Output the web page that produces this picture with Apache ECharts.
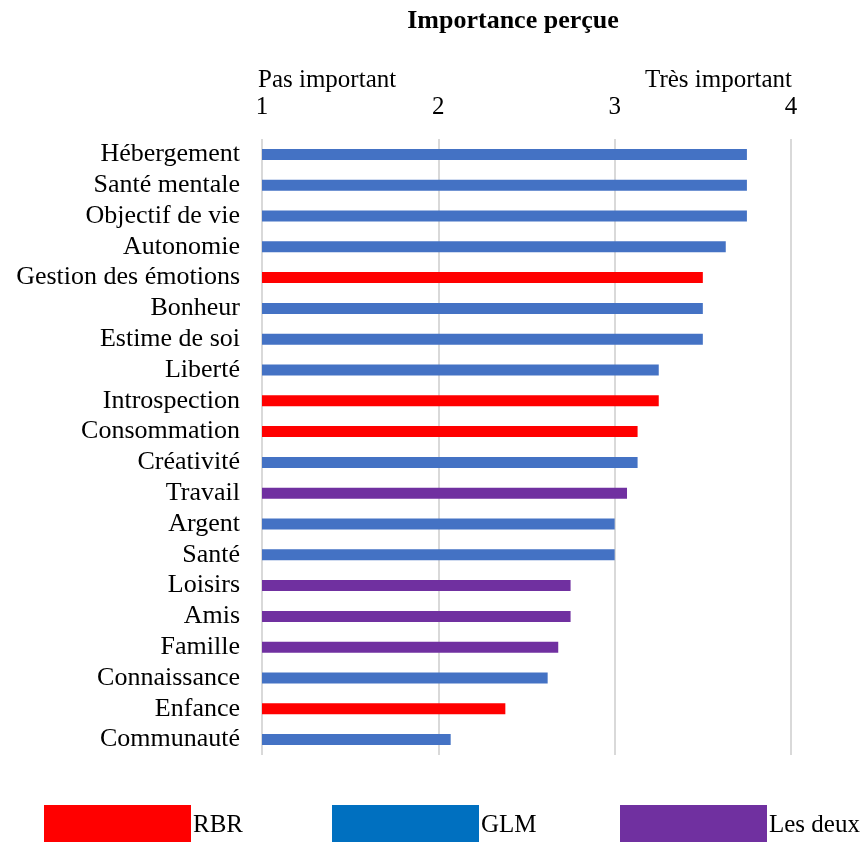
<!DOCTYPE html>
<html>
<head>
<meta charset="utf-8">
<script src="https://cdn.jsdelivr.net/npm/echarts@6/dist/echarts.min.js"></script>
<style>
  html, body { margin: 0; padding: 0; background: #fff; }
  #chart { width: 865px; height: 842px; }
</style>
</head>
<body>
<div id="chart"></div>
<script>
// besoins, du haut vers le bas
const besoins = ['Hébergement', 'Santé mentale', 'Objectif de vie', 'Autonomie',
  'Gestion des émotions', 'Bonheur', 'Estime de soi', 'Liberté', 'Introspection',
  'Consommation', 'Créativité', 'Travail', 'Argent', 'Santé', 'Loisirs', 'Amis',
  'Famille', 'Connaissance', 'Enfance', 'Communauté']
const importance = [3.75, 3.75, 3.75, 3.63, 3.5, 3.5, 3.5, 3.25, 3.25, 3.13,
  3.13, 3.07, 3.0, 3.0, 2.75, 2.75, 2.68, 2.62, 2.38, 2.07]
const modele = ['GLM', 'GLM', 'GLM', 'GLM', 'RBR', 'GLM', 'GLM', 'GLM', 'RBR',
  'RBR', 'GLM', 'Les deux', 'GLM', 'GLM', 'Les deux', 'Les deux', 'Les deux',
  'GLM', 'RBR', 'GLM']
const groupes   = ['RBR', 'GLM', 'Les deux']
const tickVals  = [1, 2, 3, 4]

const barColors    = { 'RBR': '#ff0000', 'GLM': '#4472c4', 'Les deux': '#7030a0' }
const legendColors = { 'RBR': '#ff0000', 'GLM': '#0070c0', 'Les deux': '#7030a0' }
const FONT = '"Liberation Serif", "Times New Roman", serif'
const FS = 25

const chart = echarts.init(document.getElementById('chart'))

// une série par modèle, empilées pour rester sur la même ligne
const series = groupes.map(g => ({
  name: g,
  type: 'bar',
  stack: 'all',
  barWidth: 11,
  itemStyle: { color: barColors[g] },
  data: importance.map((v, i) => modele[i] === g ? v : '-'),
}))

const legendLeft = [44, 332, 620]

chart.setOption({
  animation: false,
  textStyle: { fontFamily: FONT },
  title: {
    text: 'Importance perçue',
    left: 513, top: 8, textAlign: 'center', padding: 0,
    textStyle: { fontFamily: FONT, fontSize: 26, fontWeight: 'bold', color: '#000' },
  },
  legend: groupes.map((g, i) => ({
    data: [{ name: g, itemStyle: { color: legendColors[g] } }],
    left: legendLeft[i], top: 805, padding: 0,
    itemWidth: 147, itemHeight: 40, itemGap: 0,
    icon: 'rect',
    textStyle: { fontFamily: FONT, fontSize: FS, color: '#000', padding: [0, 0, 0, -3] },
    selectedMode: false,
  })),
  grid: { left: 262, right: 74, top: 139, bottom: 87, containLabel: false, outerBoundsMode: 'none' },
  xAxis: {
    type: 'value',
    position: 'top',
    min: 1, max: 4, interval: 1,
    axisLine: { show: false },
    axisTick: { show: false },
    splitLine: { lineStyle: { color: '#d9d9d9', width: 2 } },
    axisLabel: {
      margin: 19,
      fontFamily: FONT, fontSize: FS, color: '#000',
      formatter: v => tickVals.includes(v) ? String(v) : '',
    },
  },
  yAxis: {
    type: 'category',
    inverse: true,
    data: besoins,
    name: 'Besoins',
    nameLocation: 'middle',
    nameGap: 224,
    nameRotate: 90,
    nameTextStyle: { fontFamily: FONT, fontSize: 27, fontWeight: 'bold', color: '#000' },
    axisLine: { show: false },
    axisTick: { show: false },
    axisLabel: { interval: 0, margin: 22, fontFamily: FONT, fontSize: 26, color: '#000' },
  },
  graphic: [
    { type: 'text', left: 258, top: 68,
      style: { text: 'Pas important', font: FS + 'px ' + FONT, fill: '#000' } },
    { type: 'text', right: 73, top: 68,
      style: { text: 'Très important', font: FS + 'px ' + FONT, fill: '#000' } },
  ],
  series: series,
})
</script>
</body>
</html>
